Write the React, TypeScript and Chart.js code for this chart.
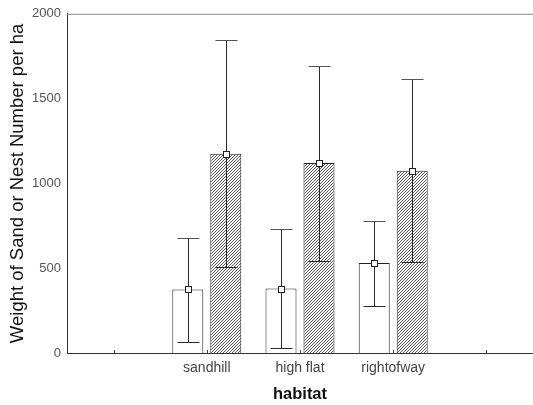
import React, { useEffect, useRef } from "react";
import { Chart, registerables } from "chart.js";

Chart.register(...registerables);

const categories = ["", "sandhill", "high flat", "rightofway", ""];
const sandMean = [null, 375, 380, 530, null];
const sandLow = [null, 65, 30, 280, null];
const sandHigh = [null, 680, 730, 780, null];
const nestMean = [null, 1175, 1120, 1075, null];
const nestLow = [null, 505, 540, 535, null];
const nestHigh = [null, 1847, 1690, 1618, null];
const yTicks = [0, 500, 1000, 1500, 2000];

const FONT = "'Liberation Sans', Arial, sans-serif";

function makeHatch(): CanvasPattern | string {
  const c = document.createElement("canvas");
  const s = 3;
  c.width = s;
  c.height = s;
  const g = c.getContext("2d");
  if (!g) return "#999";
  g.fillStyle = "#ffffff";
  g.fillRect(0, 0, s, s);
  g.strokeStyle = "#5a5a5a";
  g.lineWidth = 1;
  g.beginPath();
  g.moveTo(0, s);
  g.lineTo(s, 0);
  g.moveTo(-1, 1);
  g.lineTo(1, -1);
  g.moveTo(s - 1, s + 1);
  g.lineTo(s + 1, s - 1);
  g.stroke();
  const p = g.createPattern(c, "repeat");
  return p || "#999";
}

const errorBarPlugin = {
  id: "errorBars",
  afterDatasetsDraw(chart: any) {
    const ctx = chart.ctx;
    const y = chart.scales.y;
    const x = chart.scales.x;
    const area = chart.chartArea;
    ctx.save();
    ctx.strokeStyle = "#8a8a8a";
    ctx.lineWidth = 1;
    ctx.beginPath();
    ctx.moveTo(area.left, area.top + 0.5);
    ctx.lineTo(area.right, area.top + 0.5);
    ctx.stroke();
    ctx.strokeStyle = "#444";
    for (let i = 0; i < categories.length; i++) {
      const px = Math.round(x.getPixelForValue(i)) + 0.5;
      ctx.beginPath();
      ctx.moveTo(px, area.bottom);
      ctx.lineTo(px, area.bottom - 3);
      ctx.stroke();
    }
    const sets = [
      { lo: sandLow, hi: sandHigh, mean: sandMean },
      { lo: nestLow, hi: nestHigh, mean: nestMean },
    ];
    sets.forEach((s, di) => {
      const meta = chart.getDatasetMeta(di);
      meta.data.forEach((el: any, i: number) => {
        if (s.mean[i] == null) return;
        const cx = Math.round(el.x) + 0.5;
        const yl = Math.round(y.getPixelForValue(s.lo[i] as number)) + 0.5;
        const yh = Math.round(y.getPixelForValue(s.hi[i] as number)) + 0.5;
        const ym = Math.round(y.getPixelForValue(s.mean[i] as number)) + 0.5;
        ctx.strokeStyle = "#2a2a2a";
        ctx.lineWidth = 1;
        ctx.beginPath();
        ctx.moveTo(cx, yl);
        ctx.lineTo(cx, yh);
        ctx.moveTo(cx - 11, yl);
        ctx.lineTo(cx + 11, yl);
        ctx.stroke();
        ctx.strokeStyle = "#555";
        ctx.beginPath();
        ctx.moveTo(cx - 11, yh);
        ctx.lineTo(cx + 11, yh);
        ctx.stroke();
        ctx.fillStyle = "#ffffff";
        ctx.strokeStyle = "#222";
        ctx.fillRect(cx - 3, ym - 3, 6, 6);
        ctx.strokeRect(cx - 3, ym - 3, 6, 6);
      });
    });
    ctx.restore();
  },
};

export default function App() {
  const ref = useRef<HTMLCanvasElement | null>(null);
  useEffect(() => {
    if (!ref.current) return;
    const hatch = makeHatch();
    const chart = new Chart(ref.current, {
      type: "bar",
      data: {
        labels: categories,
        datasets: [
          {
            label: "Weight of Sand",
            data: sandMean as any,
            backgroundColor: "#ffffff",
            borderColor: "#222",
            borderWidth: 1,
            categoryPercentage: 0.815,
            barPercentage: 0.816,
          },
          {
            label: "Nest Number",
            data: nestMean as any,
            backgroundColor: hatch as any,
            borderColor: "#222",
            borderWidth: 1,
            categoryPercentage: 0.815,
            barPercentage: 0.816,
          },
        ],
      },
      options: {
        responsive: false,
        animation: false,
        layout: { padding: { top: 13, left: 0, right: 0, bottom: 0 } },
        plugins: {
          legend: { display: false },
          tooltip: { enabled: false },
        },
        scales: {
          x: {
            offset: true,
            grid: { display: false, drawTicks: false },
            border: { display: true, color: "#333", width: 1 },
            ticks: {
              color: "#444",
              font: { family: FONT, size: 14 },
              padding: 7,
              autoSkip: false,
              maxRotation: 0,
            },
            title: {
              display: true,
              text: "habitat",
              color: "#111",
              font: { family: FONT, size: 16.5, weight: "bold" },
              padding: { top: 0, bottom: 1 },
            },
            afterFit: (s: any) => {
              s.height = 52;
            },
          },
          y: {
            min: 0,
            max: 2000,
            grid: { display: false, drawTicks: false },
            border: { display: true, color: "#333", width: 1 },
            afterBuildTicks: (s: any) => {
              s.ticks = yTicks.map((v) => ({ value: v }));
            },
            ticks: {
              color: "#555",
              font: { family: FONT, size: 13 },
              padding: 6,
              callback: (v: any) => String(v),
            },
            title: {
              display: true,
              text: "Weight of Sand or Nest Number per ha",
              color: "#111",
              font: { family: FONT, size: 18.5 },
              padding: { top: 7, bottom: 0 },
            },
            afterFit: (s: any) => {
              s.width = 67;
            },
          },
        },
      },
      plugins: [errorBarPlugin],
    });
    return () => chart.destroy();
  }, []);
  return (
    <canvas
      ref={ref}
      width={533}
      height={405}
      style={{ position: "absolute", left: 0, top: 0, display: "block", background: "#fff" }}
    />
  );
}
